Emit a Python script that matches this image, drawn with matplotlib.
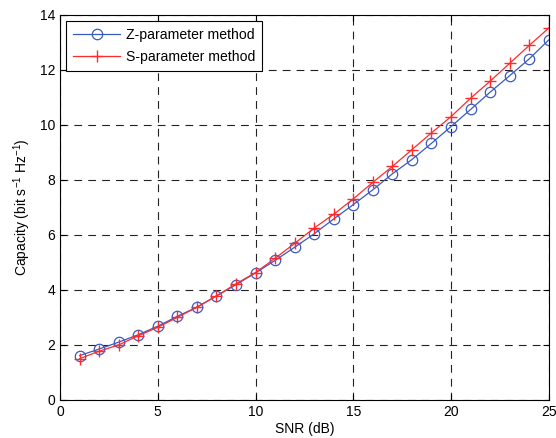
import numpy as np
import matplotlib.pyplot as plt

plt.rcParams['font.family'] = ['Liberation Sans', 'DejaVu Sans']
plt.rcParams['mathtext.default'] = 'regular'

# SNR points (dB)
snr = np.arange(1, 26)

# capacity values
z_param = [1.61, 1.85, 2.10, 2.37, 2.68, 3.04, 3.37, 3.78, 4.19, 4.62,
           5.07, 5.55, 6.04, 6.58, 7.10, 7.64, 8.22, 8.74, 9.33, 9.94,
           10.56, 11.19, 11.79, 12.40, 13.09]
s_param = [1.50, 1.77, 2.00, 2.33, 2.64, 3.00, 3.37, 3.78, 4.22, 4.63,
           5.15, 5.69, 6.25, 6.75, 7.31, 7.91, 8.49, 9.10, 9.71, 10.30,
           10.97, 11.59, 12.24, 12.89, 13.52]

fig = plt.figure(figsize=(5.56, 4.38), dpi=100)
ax = fig.add_axes([0.108, 0.087, 0.879, 0.879])

ax.plot(snr, z_param, color='#3a5bbf', lw=0.9, marker='o', ms=7.5,
        mfc='none', mec='#3a5bbf', mew=0.9, label='Z-parameter method')
ax.plot(snr, s_param, color='#ff2a2a', lw=0.9, marker='+', ms=8.5,
        mew=1.0, label='S-parameter method')

ax.set_xlim(0, 25)
ax.set_ylim(0, 14)
ax.set_xticks([0, 5, 10, 15, 20, 25])
ax.set_yticks(np.arange(0, 15, 2))
ax.tick_params(direction='in', top=True, right=True, labelsize=10, length=4)
ax.grid(True, color='#222222', linestyle=(0, (7, 5.5)), linewidth=0.8)

ax.set_xlabel('SNR (dB)', fontsize=10, labelpad=2)
ax.set_ylabel('Capacity (bit s$^{-1}$ Hz$^{-1}$)', fontsize=10, labelpad=5)

leg = ax.legend(loc='upper left', fontsize=10.1, fancybox=False, framealpha=1,
                edgecolor='black', borderaxespad=0.4, handlelength=3.4,
                borderpad=0.5, labelspacing=0.6, handletextpad=0.4)
leg.get_frame().set_linewidth(0.8)

fig.savefig('out.png', dpi=100)
